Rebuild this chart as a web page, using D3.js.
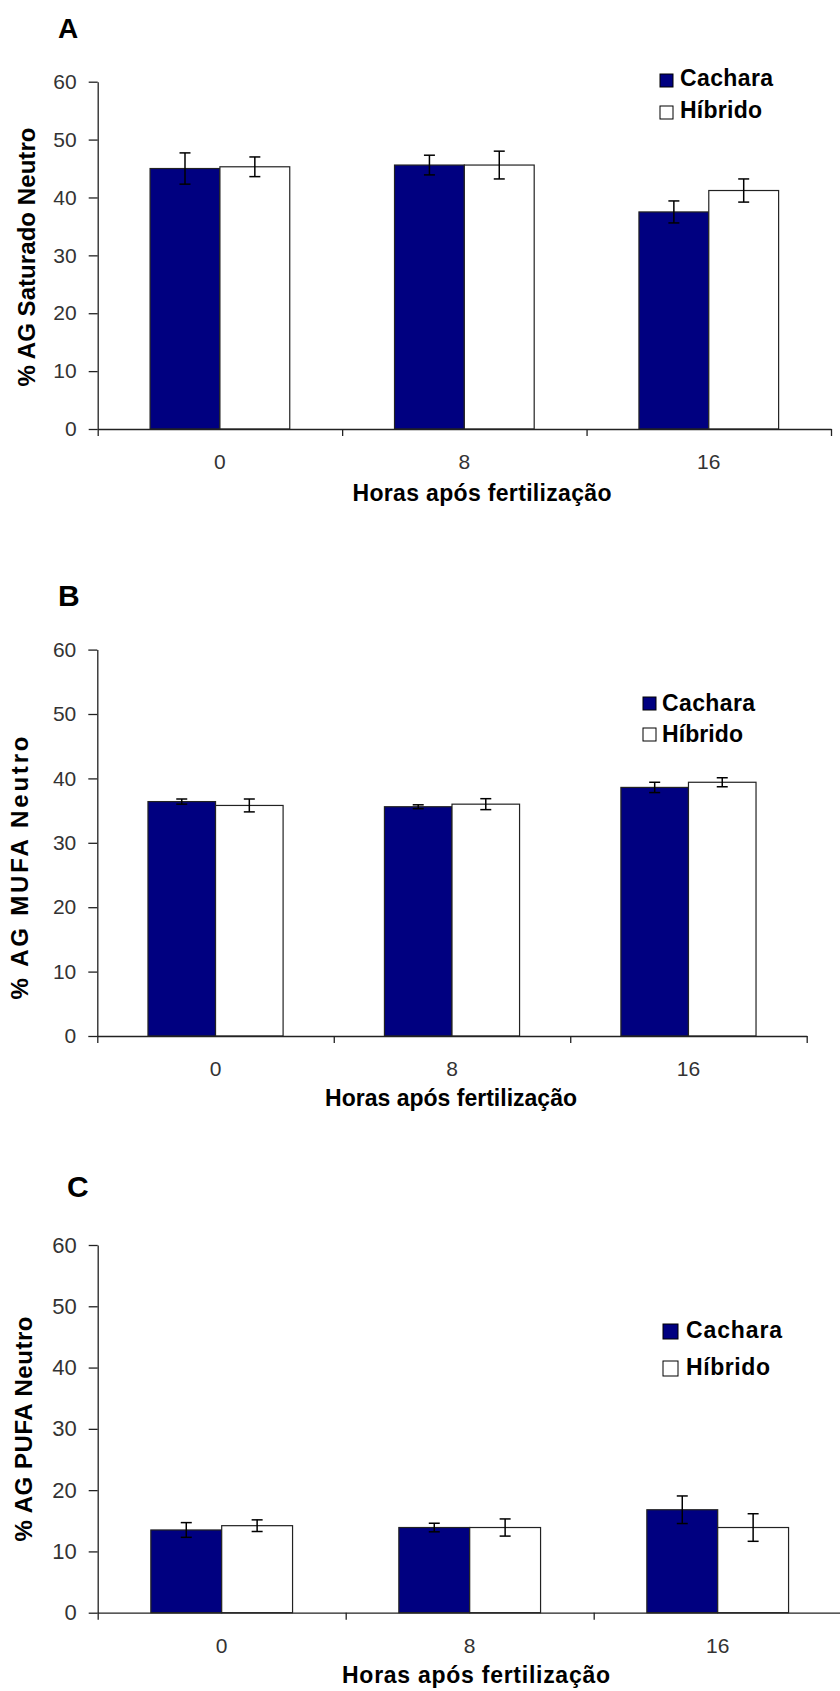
<!DOCTYPE html>
<html>
<head>
<meta charset="utf-8">
<script src="https://cdn.jsdelivr.net/npm/d3@7"></script>
<style>
  body { margin: 0; background: #fff; }
  svg { display: block; font-family: "Liberation Sans", Arial, sans-serif; }
</style>
</head>
<body>
<svg width="840" height="1691"></svg>
<script>
// categories and series
const horas = ['0', '8', '16'];
const grupos = ['Cachara', 'Híbrido'];
const yTicks = [0, 10, 20, 30, 40, 50, 60];

// A - AG saturado
const saturadoCachara = [45.0, 45.6, 37.5];
const saturadoCacharaErr = [2.7, 1.7, 1.9];
const saturadoHibrido = [45.3, 45.6, 41.2];
const saturadoHibridoErr = [1.7, 2.4, 2.0];

// B - MUFA
const mufaCachara = [36.4, 35.6, 38.6];
const mufaCacharaErr = [0.4, 0.3, 0.8];
const mufaHibrido = [35.8, 36.0, 39.4];
const mufaHibridoErr = [1.0, 0.85, 0.7];

// C - PUFA
const pufaCachara = [13.5, 13.9, 16.8];
const pufaCacharaErr = [1.2, 0.7, 2.25];
const pufaHibrido = [14.2, 13.9, 13.9];
const pufaHibridoErr = [0.95, 1.4, 2.25];

const cores = { 'Cachara': '#000080', 'Híbrido': '#ffffff' };

const panels = [
    {
        letter: 'A', letterX: 58, letterY: 38, letterSize: 28,
        ylabel: '% AG Saturado Neutro', ylabelX: 35, ylabelY: 257, ylabelLen: 259,
        left: 97.7, right: 831, top: 81.7, bottom: 429,
        yTickSize: 21, xTickSize: 21,
        titleX: 482, titleY: 501, titleLen: 259,
        legX: 660, legY: [74, 106], legBox: 13, legTextX: 680, legBase: [86, 118], legLen: [93, 82],
        values: [saturadoCachara, saturadoHibrido], errors: [saturadoCacharaErr, saturadoHibridoErr]
    },
    {
        letter: 'B', letterX: 58, letterY: 606, letterSize: 30,
        ylabel: '% AG MUFA Neutro', ylabelX: 28, ylabelY: 868, ylabelLen: 263,
        left: 97.3, right: 806.7, top: 649.6, bottom: 1036,
        yTickSize: 21, xTickSize: 21,
        titleX: 451, titleY: 1106, titleLen: 252,
        legX: 643, legY: [697, 728], legBox: 13, legTextX: 662, legBase: [710.7, 742.3], legLen: [93, 81],
        values: [mufaCachara, mufaHibrido], errors: [mufaCacharaErr, mufaHibridoErr]
    },
    {
        letter: 'C', letterX: 67, letterY: 1197, letterSize: 30,
        ylabel: '% AG PUFA Neutro', ylabelX: 32, ylabelY: 1429, ylabelLen: 225,
        left: 97.7, right: 841.7, top: 1245, bottom: 1612.7,
        yTickSize: 22, xTickSize: 21,
        titleX: 476, titleY: 1683, titleLen: 268,
        legX: 663, legY: [1324, 1361], legBox: 15, legTextX: 686, legBase: [1338, 1375], legLen: [96, 84],
        values: [pufaCachara, pufaHibrido], errors: [pufaCacharaErr, pufaHibridoErr]
    }
];

function drawPanel(svg, p) {
    const g = svg.append('g');

    const x = d3.scaleBand().domain(horas).range([p.left, p.right]);
    // Excel-like gap width 150%
    const xSub = d3.scaleBand().domain(grupos).range([0, x.bandwidth()]).paddingOuter(0.75);
    const y = d3.scaleLinear().domain([0, 60]).range([p.bottom, p.top]);

    const rows = horas.flatMap((h, i) => grupos.map((s, j) => ({
        hora: h, grupo: s, v: p.values[j][i], e: p.errors[j][i]
    })));

    // bars
    g.selectAll('rect.bar')
        .data(rows)
        .enter().append('rect')
        .attr('class', 'bar')
        .attr('x', d => x(d.hora) + xSub(d.grupo))
        .attr('y', d => y(d.v))
        .attr('width', xSub.bandwidth())
        .attr('height', d => y(0) - y(d.v))
        .attr('fill', d => cores[d.grupo])
        .attr('stroke', '#222')
        .attr('stroke-width', 1.2);

    // error bars
    const err = g.selectAll('g.err')
        .data(rows)
        .enter().append('g')
        .attr('class', 'err')
        .attr('transform', d => `translate(${x(d.hora) + xSub(d.grupo) + xSub.bandwidth() / 2},0)`)
        .attr('stroke', '#000')
        .attr('stroke-width', 1.5);
    err.append('line')
        .attr('y1', d => y(d.v - d.e))
        .attr('y2', d => y(d.v + d.e));
    err.append('line')
        .attr('x1', -5.5).attr('x2', 5.5)
        .attr('y1', d => y(d.v + d.e)).attr('y2', d => y(d.v + d.e));
    err.append('line')
        .attr('x1', -5.5).attr('x2', 5.5)
        .attr('y1', d => y(d.v - d.e)).attr('y2', d => y(d.v - d.e));

    // y axis
    const yAxis = g.append('g')
        .attr('transform', `translate(${p.left},0)`)
        .call(d3.axisLeft(y).tickValues(yTicks).tickSize(9).tickSizeOuter(0).tickPadding(12));
    yAxis.selectAll('path, line').attr('stroke', '#222').attr('stroke-width', 1.3);
    yAxis.selectAll('text')
        .attr('fill', '#333')
        .style('font-size', p.yTickSize + 'px')
        .style('font-family', '"Liberation Sans", Arial, sans-serif');

    // x axis: tick marks at category edges
    const xEdge = d3.scaleLinear().domain([0, horas.length]).range([p.left, p.right]);
    const xAxis = g.append('g')
        .attr('transform', `translate(0,${p.bottom})`)
        .call(d3.axisBottom(xEdge).tickValues(d3.range(horas.length + 1)).tickSize(7).tickSizeOuter(0).tickFormat(''));
    xAxis.selectAll('path, line').attr('stroke', '#222').attr('stroke-width', 1.3);

    // x axis: category labels
    const xLab = g.append('g')
        .attr('transform', `translate(0,${p.bottom})`)
        .call(d3.axisBottom(x).tickSize(0).tickPadding(25));
    xLab.select('.domain').remove();
    xLab.selectAll('text')
        .attr('fill', '#333')
        .style('font-size', p.xTickSize + 'px')
        .style('font-family', '"Liberation Sans", Arial, sans-serif');

    // panel letter
    g.append('text')
        .attr('x', p.letterX)
        .attr('y', p.letterY)
        .style('font-size', p.letterSize + 'px')
        .style('font-weight', 'bold')
        .text(p.letter);

    // y label
    g.append('text')
        .attr('transform', `translate(${p.ylabelX},${p.ylabelY}) rotate(-90)`)
        .attr('text-anchor', 'middle')
        .attr('textLength', p.ylabelLen)
        .attr('lengthAdjust', 'spacing')
        .style('font-size', '24px')
        .style('font-weight', 'bold')
        .text(p.ylabel);

    // x title
    g.append('text')
        .attr('x', p.titleX - p.titleLen / 2)
        .attr('y', p.titleY)
        .attr('textLength', p.titleLen)
        .attr('lengthAdjust', 'spacing')
        .style('font-size', '23px')
        .style('font-weight', 'bold')
        .text('Horas após fertilização');

    // legend
    const legend = g.selectAll('.legend')
        .data(grupos)
        .enter().append('g')
        .attr('class', 'legend');
    legend.append('rect')
        .attr('x', p.legX)
        .attr('y', (d, i) => p.legY[i])
        .attr('width', p.legBox)
        .attr('height', p.legBox)
        .attr('fill', d => cores[d])
        .attr('stroke', '#000')
        .attr('stroke-width', 1);
    legend.append('text')
        .attr('x', p.legTextX)
        .attr('y', (d, i) => p.legBase[i])
        .attr('textLength', (d, i) => p.legLen[i])
        .attr('lengthAdjust', 'spacing')
        .style('font-size', '23px')
        .style('font-weight', 'bold')
        .text(d => d);
}

const svg = d3.select('svg');
panels.forEach(p => drawPanel(svg, p));
</script>
</body>
</html>
